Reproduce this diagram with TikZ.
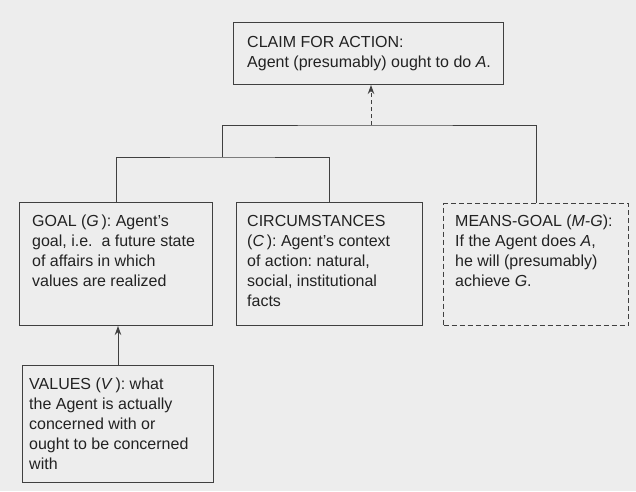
\documentclass[tikz,border=0pt]{standalone}
\usepackage{fontspec}
\setmainfont{Liberation Sans}
\usetikzlibrary{arrows.meta}
\definecolor{bgc}{HTML}{EDEDED}
\definecolor{linec}{HTML}{404040}
\definecolor{txtc}{HTML}{222222}
\frenchspacing
\begin{document}
\begin{tikzpicture}[x=1pt,y=-1pt,
  box/.style={draw=linec, line width=1pt, rectangle, inner sep=0pt, anchor=north west},
  dbox/.style={box, dash pattern=on 5pt off 3pt},
  txt/.style={anchor=north west, inner sep=0pt, align=left, text=txtc,
    font=\fontsize{16}{20}\selectfont},
  conn/.style={draw=linec, line width=1pt},
  tip/.style={-{Stealth[length=9pt,width=6.5pt]}}
]
\fill[bgc] (0,0) rectangle (636,491);
\useasboundingbox (0,0) rectangle (636,491);

\node[box, minimum width=270pt, minimum height=62pt] (claim) at (233,22) {};
\node[box, minimum width=193pt, minimum height=123pt] (goal) at (19,202) {};
\node[box, minimum width=186pt, minimum height=123pt] (circ) at (236,202) {};
\node[dbox, minimum width=185pt, minimum height=122pt] (means) at (443,203) {};
\node[box, minimum width=191pt, minimum height=117pt] (values) at (22,365) {};

\node[txt] (claimt) at (247,36) {CLAIM FOR ACTION:\\Agent (presumably) ought to do \textit{A}.};
\node[txt] (goalt) at (32,215) {GOAL (\textit{G}\,): Agent’s\\goal, i.e.\ \ a future state\\of affairs in which\\values are realized};
\node[txt] (circt) at (247,215) {CIRCUMSTANCES\\(\textit{C}\,): Agent’s context\\of action: natural,\\social, institutional\\facts};
\node[txt] (meanst) at (455,215) {MEANS-GOAL (\textit{M-G}):\\If the Agent does \textit{A},\\he will (presumably)\\achieve \textit{G}.};
\node[txt] (valuest) at (29,378) {VALUES (\textit{V}\,): what\\the Agent is actually\\concerned with or\\ought to be concerned\\with};

\coordinate (j1) at (222,157);
\coordinate (j2) at (371,125);

\draw[conn] (goal.north) |- (j1) -| (circ.north);
\draw[conn] (j1) |- (j2) -| (means.north);
\draw[conn, tip, dash pattern=on 4pt off 3pt] (j2) -- (j2 |- claim.south);
\draw[conn, tip] (values.north) -- (values.north |- goal.south);
\end{tikzpicture}
\end{document}
